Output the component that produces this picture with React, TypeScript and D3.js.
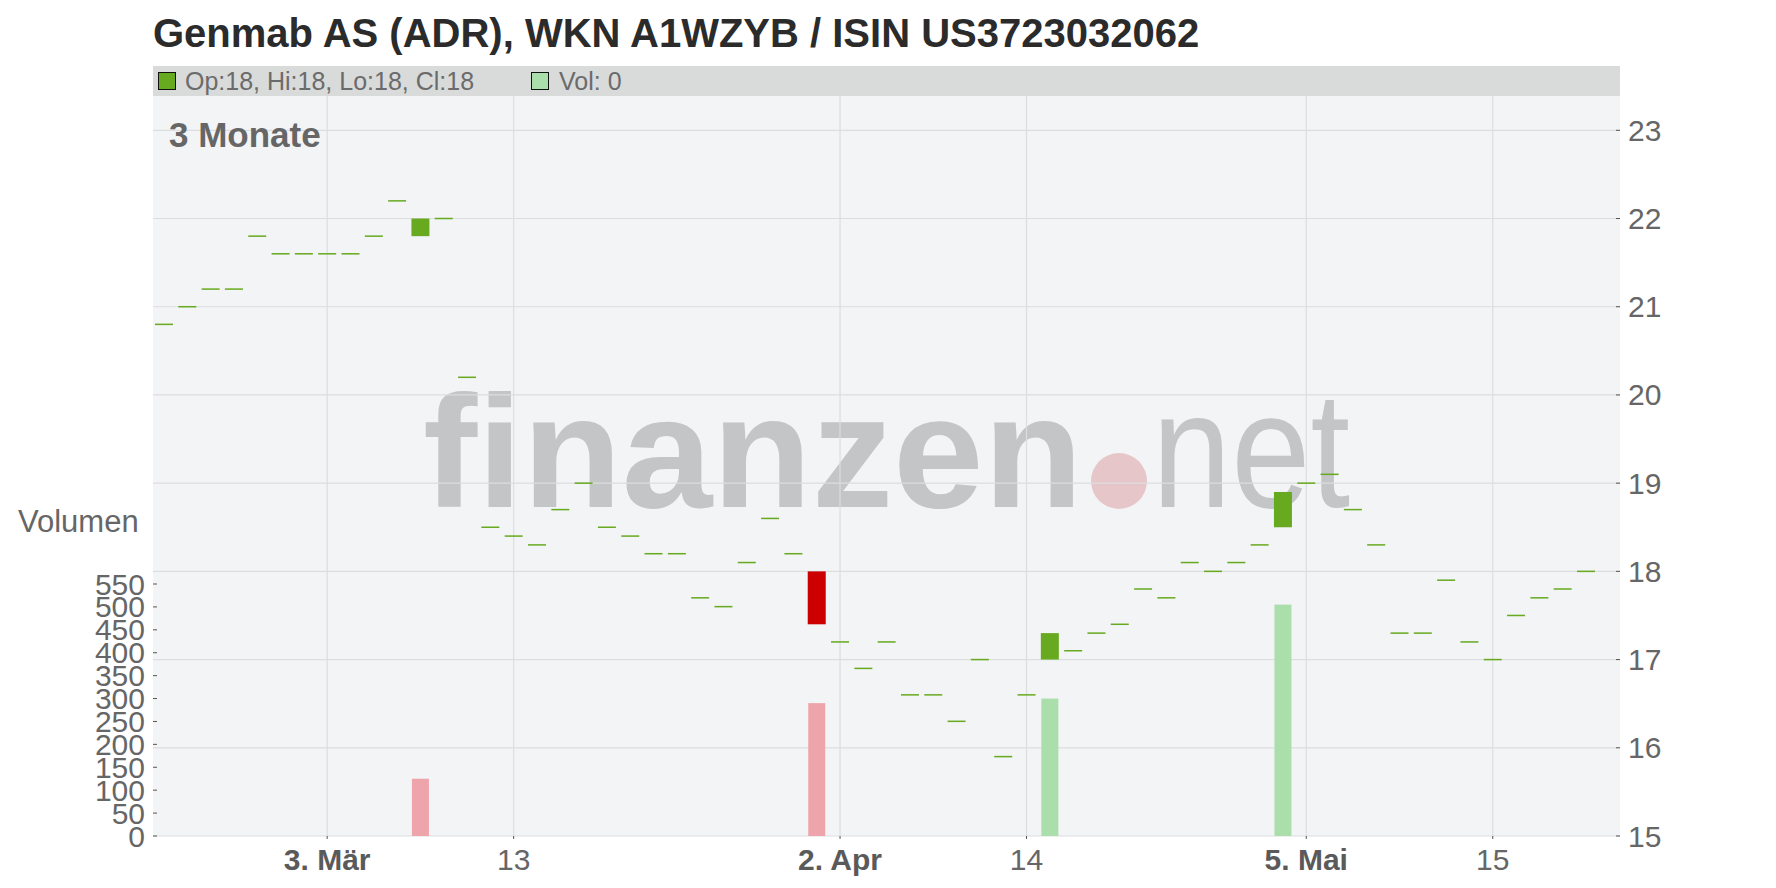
import React, { useEffect, useRef } from 'react';
import * as d3 from 'd3';

// trading days (German exchange calendar, Feb 20 - May 21 2025)
const dates = [
  '2025-02-20', '2025-02-21', '2025-02-24', '2025-02-25', '2025-02-26', '2025-02-27', '2025-02-28',
  '2025-03-03', '2025-03-04', '2025-03-05', '2025-03-06', '2025-03-07', '2025-03-10', '2025-03-11',
  '2025-03-12', '2025-03-13', '2025-03-14', '2025-03-17', '2025-03-18', '2025-03-19', '2025-03-20',
  '2025-03-21', '2025-03-24', '2025-03-25', '2025-03-26', '2025-03-27', '2025-03-28', '2025-03-31',
  '2025-04-01', '2025-04-02', '2025-04-03', '2025-04-04', '2025-04-07', '2025-04-08', '2025-04-09',
  '2025-04-10', '2025-04-11', '2025-04-14', '2025-04-15', '2025-04-16', '2025-04-17', '2025-04-22',
  '2025-04-23', '2025-04-24', '2025-04-25', '2025-04-28', '2025-04-29', '2025-04-30', '2025-05-02',
  '2025-05-05', '2025-05-06', '2025-05-07', '2025-05-08', '2025-05-09', '2025-05-12', '2025-05-13',
  '2025-05-14', '2025-05-15', '2025-05-16', '2025-05-19', '2025-05-20', '2025-05-21',
];

const opens = [
  20.8, 21.0, 21.2, 21.2, 21.8, 21.6, 21.6,
  21.6, 21.6, 21.8, 22.2, 21.8, 22.0, 20.2,
  18.5, 18.4, 18.3, 18.7, 19.0, 18.5, 18.4,
  18.2, 18.2, 17.7, 17.6, 18.1, 18.6, 18.2,
  18.0, 17.2, 16.9, 17.2, 16.6, 16.6, 16.3,
  17.0, 15.9, 16.6, 17.0, 17.1, 17.3, 17.4,
  17.8, 17.7, 18.1, 18.0, 18.1, 18.3, 18.5,
  19.0, 19.1, 18.7, 18.3, 17.3, 17.3, 17.9,
  17.2, 17.0, 17.5, 17.7, 17.8, 18.0,
];

const closes = [
  20.8, 21.0, 21.2, 21.2, 21.8, 21.6, 21.6,
  21.6, 21.6, 21.8, 22.2, 22.0, 22.0, 20.2,
  18.5, 18.4, 18.3, 18.7, 19.0, 18.5, 18.4,
  18.2, 18.2, 17.7, 17.6, 18.1, 18.6, 18.2,
  17.4, 17.2, 16.9, 17.2, 16.6, 16.6, 16.3,
  17.0, 15.9, 16.6, 17.3, 17.1, 17.3, 17.4,
  17.8, 17.7, 18.1, 18.0, 18.1, 18.3, 18.9,
  19.0, 19.1, 18.7, 18.3, 17.3, 17.3, 17.9,
  17.2, 17.0, 17.5, 17.7, 17.8, 18.0,
];

const volumes = [
  0, 0, 0, 0, 0, 0, 0,
  0, 0, 0, 0, 125, 0, 0,
  0, 0, 0, 0, 0, 0, 0,
  0, 0, 0, 0, 0, 0, 0,
  290, 0, 0, 0, 0, 0, 0,
  0, 0, 0, 300, 0, 0, 0,
  0, 0, 0, 0, 0, 0, 505,
  0, 0, 0, 0, 0, 0, 0,
  0, 0, 0, 0, 0, 0,
];

const xTickDates = ['2025-03-03', '2025-03-13', '2025-04-02', '2025-04-14', '2025-05-05', '2025-05-15'];
const xTickLabels = ['3. Mär', '13', '2. Apr', '14', '5. Mai', '15'];
const xTickBold = [true, false, true, false, true, false];
const priceTicks = [15, 16, 17, 18, 19, 20, 21, 22, 23];
const volumeTicks = [0, 50, 100, 150, 200, 250, 300, 350, 400, 450, 500, 550];

const title = 'Genmab AS (ADR), WKN A1WZYB / ISIN US3723032062';
const legendPrice = 'Op:18, Hi:18, Lo:18, Cl:18';
const legendVolume = 'Vol: 0';

const App: React.FC = () => {
  const svgRef = useRef<SVGSVGElement>(null);

  useEffect(() => {
    if (!svgRef.current) return;
    document.body.style.margin = '0';

    const svg = d3.select(svgRef.current);
    svg.selectAll('*').remove();

    const font = '"Liberation Sans", Arial, sans-serif';
    const left = 153;
    const right = 1620;
    const top = 96;
    const bottom = 836;

    const x = d3.scalePoint<string>().domain(dates).range([left + 11, right - 34]);
    const y = d3.scaleLinear().domain([15, 23]).range([bottom, 130.3]);
    const yVol = d3.scaleLinear().domain([0, 550]).range([bottom, 584]);

    const green = '#67aa20';
    const red = '#cc0000';

    // title
    svg.append('text')
      .attr('x', left)
      .attr('y', 47)
      .attr('font-family', font)
      .attr('font-weight', 'bold')
      .attr('font-size', 40)
      .attr('fill', '#2b2b2b')
      .text(title);

    // legend bar
    svg.append('rect')
      .attr('x', left).attr('y', 66)
      .attr('width', right - left).attr('height', top - 66)
      .attr('fill', '#d9dada');
    svg.append('rect')
      .attr('x', 158.5).attr('y', 72.5).attr('width', 17).attr('height', 17)
      .attr('fill', green).attr('stroke', '#111').attr('stroke-width', 1);
    svg.append('text')
      .attr('x', 185).attr('y', 89.5)
      .attr('font-family', font).attr('font-size', 25).attr('fill', '#6b6b6b')
      .text(legendPrice);
    svg.append('rect')
      .attr('x', 531.5).attr('y', 72.5).attr('width', 17).attr('height', 17)
      .attr('fill', '#aadeaa').attr('stroke', '#111').attr('stroke-width', 1);
    svg.append('text')
      .attr('x', 559).attr('y', 89.5)
      .attr('font-family', font).attr('font-size', 25).attr('fill', '#6b6b6b')
      .text(legendVolume);

    // plot background
    svg.append('rect')
      .attr('x', left).attr('y', top)
      .attr('width', right - left).attr('height', bottom - top)
      .attr('fill', '#f3f4f6');

    // watermark
    const wm = svg.append('g');
    wm.append('text')
      .attr('x', 423).attr('y', 507)
      .attr('font-family', font).attr('font-weight', 'bold').attr('font-size', 160)
      .attr('textLength', 660).attr('lengthAdjust', 'spacingAndGlyphs')
      .attr('fill', '#c4c5c7')
      .text('finanzen');
    wm.append('circle')
      .attr('cx', 1119).attr('cy', 481).attr('r', 28)
      .attr('fill', '#e7c6ca');
    wm.append('text')
      .attr('x', 1152).attr('y', 507)
      .attr('font-family', font).attr('font-weight', 'normal').attr('font-size', 165)
      .attr('textLength', 198).attr('lengthAdjust', 'spacingAndGlyphs')
      .attr('fill', '#c4c5c7')
      .text('net');

    // grid
    svg.selectAll('.h-grid')
      .data(priceTicks)
      .enter()
      .append('line')
      .attr('x1', left).attr('x2', right)
      .attr('y1', d => y(d)).attr('y2', d => y(d))
      .attr('stroke', '#dcdddf').attr('stroke-width', 1.2);
    svg.selectAll('.v-grid')
      .data(xTickDates)
      .enter()
      .append('line')
      .attr('x1', d => x(d) as number).attr('x2', d => x(d) as number)
      .attr('y1', top).attr('y2', bottom)
      .attr('stroke', '#dcdddf').attr('stroke-width', 1.2);

    // volume bars
    const volData = dates.map((d, i) => ({
      date: d,
      vol: volumes[i],
      up: i === 0 ? true : closes[i] >= closes[i - 1],
    })).filter(d => d.vol > 0);
    svg.selectAll('.vol')
      .data(volData)
      .enter()
      .append('rect')
      .attr('x', d => (x(d.date) as number) - 8.5)
      .attr('width', 17)
      .attr('y', d => yVol(d.vol))
      .attr('height', d => yVol(0) - yVol(d.vol))
      .attr('fill', d => (d.up ? '#aadeaa' : '#eea4ab'));

    // candles
    const candles = dates.map((d, i) => ({ date: d, open: opens[i], close: closes[i] }));
    svg.selectAll('.candle')
      .data(candles)
      .enter()
      .append('rect')
      .attr('x', d => (x(d.date) as number) - 9)
      .attr('width', 18)
      .attr('y', d => (d.open === d.close ? y(d.close) - 0.75 : y(Math.max(d.open, d.close))))
      .attr('height', d => (d.open === d.close ? 1.5 : Math.abs(y(d.open) - y(d.close))))
      .attr('fill', d => (d.close < d.open ? red : green));

    // right price axis
    svg.selectAll('.p-tick')
      .data(priceTicks)
      .enter()
      .append('line')
      .attr('x1', right - 4).attr('x2', right)
      .attr('y1', d => y(d)).attr('y2', d => y(d))
      .attr('stroke', '#555');
    svg.selectAll('.p-label')
      .data(priceTicks)
      .enter()
      .append('text')
      .attr('x', right + 8)
      .attr('y', d => y(d) + 10.5)
      .attr('font-family', font).attr('font-size', 30).attr('fill', '#666')
      .text(d => d);

    // left volume axis
    svg.selectAll('.v-tick')
      .data(volumeTicks)
      .enter()
      .append('line')
      .attr('x1', left).attr('x2', left + 4)
      .attr('y1', d => yVol(d)).attr('y2', d => yVol(d))
      .attr('stroke', '#555');
    svg.selectAll('.v-label')
      .data(volumeTicks)
      .enter()
      .append('text')
      .attr('x', 145)
      .attr('y', d => yVol(d) + 10.5)
      .attr('text-anchor', 'end')
      .attr('font-family', font).attr('font-size', 30).attr('fill', '#666')
      .text(d => d);
    svg.append('text')
      .attr('x', 18).attr('y', 532)
      .attr('font-family', font).attr('font-size', 31).attr('fill', '#666')
      .text('Volumen');

    // x axis
    svg.selectAll('.x-tick')
      .data(xTickDates)
      .enter()
      .append('line')
      .attr('x1', d => x(d) as number).attr('x2', d => x(d) as number)
      .attr('y1', bottom).attr('y2', bottom + 3)
      .attr('stroke', '#555');
    svg.selectAll('.x-label')
      .data(xTickDates)
      .enter()
      .append('text')
      .attr('x', d => x(d) as number)
      .attr('y', 870)
      .attr('text-anchor', 'middle')
      .attr('font-family', font).attr('font-size', 30)
      .attr('font-weight', (_, i) => (xTickBold[i] ? 'bold' : 'normal'))
      .attr('fill', (_, i) => (xTickBold[i] ? '#5a5a5a' : '#666'))
      .text((_, i) => xTickLabels[i]);

    // period label
    svg.append('text')
      .attr('x', 169).attr('y', 147)
      .attr('font-family', font).attr('font-weight', 'bold').attr('font-size', 35)
      .attr('fill', '#666')
      .text('3 Monate');
  }, []);

  return <svg ref={svgRef} width={1776} height={888} style={{ display: 'block' }} />;
};

export default App;
